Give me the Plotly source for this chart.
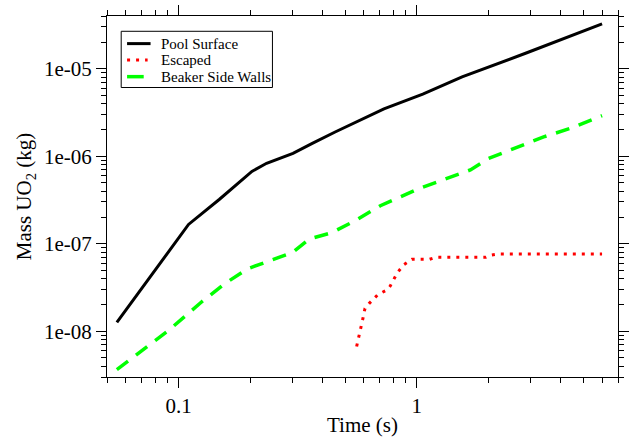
import math
import plotly.graph_objects as go

# Mass of UO2 deposited vs. time (log-log)
pool_t = [0.055, 0.075, 0.103, 0.11, 0.148, 0.203, 0.234, 0.302, 0.364, 0.454,
          0.728, 1.06, 1.55, 2.9, 6.0]
pool_m = [1.26e-8, 4.0e-8, 1.34e-7, 1.66e-7, 3.2e-7, 6.7e-7, 8.3e-7, 1.08e-6,
          1.4e-6, 1.89e-6, 3.48e-6, 5.13e-6, 8.05e-6, 1.52e-5, 3.25e-5]

escaped_t = [0.559, 0.569, 0.582, 0.595, 0.606, 0.63, 0.686, 0.749, 0.773, 0.828,
             0.882, 0.954, 1.13, 1.2, 1.95, 2.05, 2.2, 6.0]
escaped_m = [6.7e-9, 8.55e-9, 1.1e-8, 1.43e-8, 1.82e-8, 2.07e-8, 2.62e-8, 2.96e-8,
             3.28e-8, 4.64e-8, 5.76e-8, 6.63e-8, 6.63e-8, 7.0e-8, 7.0e-8, 7.4e-8,
             7.64e-8, 7.64e-8]

walls_t = [0.055, 0.091, 0.125, 0.156, 0.194, 0.241, 0.301, 0.353, 0.44, 0.548,
           0.703, 1.03, 1.68, 2.0, 3.41, 4.39, 6.0]
walls_m = [3.65e-9, 1.03e-8, 2.17e-8, 3.49e-8, 5.15e-8, 6.4e-8, 7.96e-8, 1.13e-7,
           1.34e-7, 1.82e-7, 2.72e-7, 4.3e-7, 6.97e-7, 9.4e-7, 1.66e-6, 2.07e-6,
           2.9e-6]

x_ticks = [0.1, 1]
x_ticktext = ["0.1", "1"]
y_ticks = [1e-8, 1e-7, 1e-6, 1e-5]
y_ticktext = ["1e-08", "1e-07", "1e-06", "1e-05"]

series_names = ["Pool Surface", "Escaped", "Beaker Side Walls"]
series_colors = ["black", "#ff0000", "#00ff00"]
series_widths = [3, 3, 3.5]
series_dash = ["solid", "3px,6px", "14px,10px"]

FONT = "Liberation Serif, Times New Roman, serif"
X_RANGE = [math.log10(0.05), math.log10(7)]
Y_RANGE = [math.log10(3e-9), math.log10(4e-5)]

# minor ticks at every digit 2..9 inside each decade shown
x_minor = [d * 10.0 ** e for e in (-2, -1, 0) for d in range(2, 10)
           if 0.05 <= d * 10.0 ** e <= 7]
y_minor = [d * 10.0 ** e for e in range(-9, -4) for d in range(2, 10)
           if 3e-9 <= d * 10.0 ** e <= 4e-5]

fig = go.Figure()
for t, m, name, color, width, dash in zip(
        [pool_t, escaped_t, walls_t], [pool_m, escaped_m, walls_m],
        series_names, series_colors, series_widths, series_dash):
    fig.add_trace(go.Scatter(x=t, y=m, mode="lines", name=name, showlegend=False,
                             line=dict(color=color, width=width, dash=dash)))

frame = dict(
    type="log",
    showgrid=False,
    zeroline=False,
    showline=True,
    linecolor="black",
    linewidth=1,
    mirror="allticks",
    ticks="outside",
    tickwidth=1,
    tickcolor="black",
    tickmode="array",
)

# major decades, labelled
fig.update_layout(
    xaxis=dict(**frame, range=X_RANGE, ticklen=10, tickvals=x_ticks,
               ticktext=x_ticktext,
               tickfont=dict(family=FONT, size=21, color="black"),
               title=dict(text="Time (s)",
                          font=dict(family=FONT, size=21, color="black"),
                          standoff=0)),
    yaxis=dict(**frame, range=Y_RANGE, ticklen=10, tickvals=y_ticks,
               ticktext=y_ticktext,
               tickfont=dict(family=FONT, size=21, color="black"),
               title=dict(text="Mass UO<sub>2</sub> (kg)",
                          font=dict(family=FONT, size=21, color="black"),
                          standoff=6)),
    # short unlabelled ticks between decades, on matching overlay axes
    xaxis2=dict(**frame, range=X_RANGE, ticklen=5, tickvals=x_minor,
                showticklabels=False, overlaying="x", anchor="y", side="bottom"),
    yaxis2=dict(**frame, range=Y_RANGE, ticklen=5, tickvals=y_minor,
                showticklabels=False, overlaying="y", anchor="x", side="left"),
)
fig.add_trace(go.Scatter(x=[None], y=[None], xaxis="x2", yaxis="y2",
                         showlegend=False, hoverinfo="skip"))

# Legend box drawn in paper coordinates (plot area is 522 x 366 px)
L, T, PW, PH = 107.0, 13.0, 522.0, 366.0


def px(xp):
    return (xp - L) / PW


def py(yp):
    return 1 - (yp - T) / PH


shapes = [dict(type="rect", xref="paper", yref="paper",
               x0=px(121.5), x1=px(276), y0=py(28.5), y1=py(85.5),
               line=dict(color="black", width=1), fillcolor="white", layer="above")]
annotations = []
row_y = [41, 57.5, 74.5]
sample_len = [24, 21, 17]
for name, color, width, dash, yy, ln in zip(series_names, series_colors,
                                           series_widths, series_dash, row_y,
                                           sample_len):
    shapes.append(dict(type="line", xref="paper", yref="paper",
                       x0=px(127.5), x1=px(127.5 + ln), y0=py(yy), y1=py(yy),
                       line=dict(color=color, width=width,
                                 dash=dash if dash.startswith("3px") else "solid"),
                       layer="above"))
    annotations.append(dict(xref="paper", yref="paper", x=px(160), y=py(yy),
                            xanchor="left", yanchor="middle", showarrow=False,
                            text=name,
                            font=dict(family=FONT, size=15, color="black")))

fig.update_layout(
    width=634, height=438,
    margin=dict(l=107, r=5, t=13, b=59),
    paper_bgcolor="white", plot_bgcolor="white",
    font=dict(family=FONT, color="black"),
    showlegend=False,
    shapes=shapes,
    annotations=annotations,
)

fig.write_html("out.html")
